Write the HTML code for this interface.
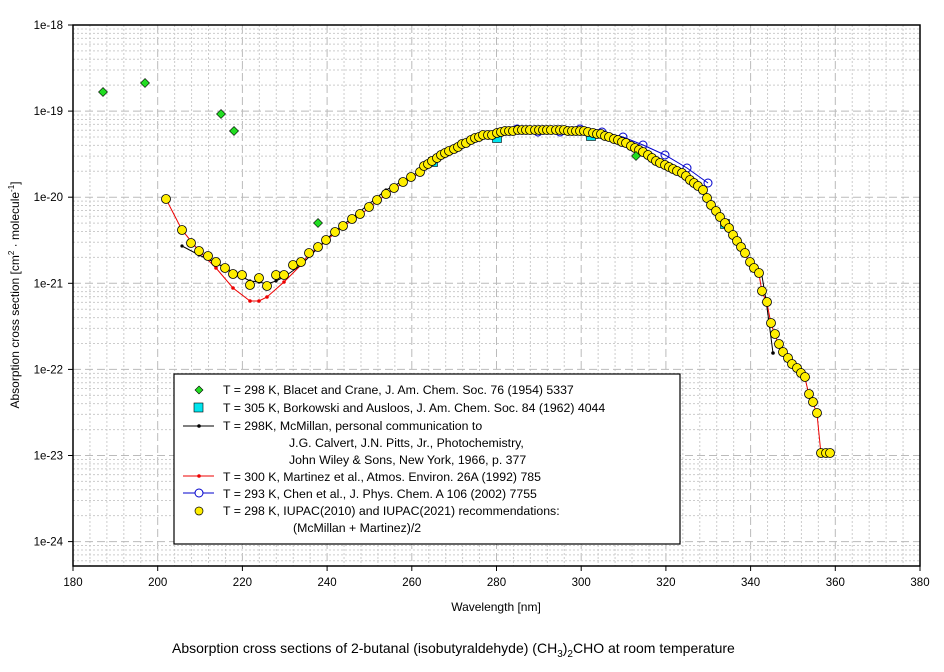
<!DOCTYPE html>
<html><head><meta charset="utf-8"><style>
body{margin:0;background:#fff;width:944px;height:667px;overflow:hidden;font-family:"Liberation Sans",Arial,sans-serif}
svg text{font-family:"Liberation Sans",Arial,sans-serif}
</style></head><body>
<svg id="s" width="944" height="667" xmlns="http://www.w3.org/2000/svg">
<g id="grid"></g>
<g id="data"></g>
<rect x="73" y="25" width="847" height="541" fill="none" stroke="#000" stroke-width="1.5"/>
<g id="ticks" font-size="11.5"></g>
<text x="496" y="611" font-size="12" text-anchor="middle">Wavelength [nm]</text>
<text transform="translate(19,295) rotate(-90)" font-size="12" text-anchor="middle">Absorption cross section [cm<tspan dy="-5" font-size="8">2</tspan><tspan dy="5"> · molecule</tspan><tspan dy="-5" font-size="8">-1</tspan><tspan dy="5">]</tspan></text>
<text x="172" y="653" font-size="14">Absorption cross sections of 2-butanal (isobutyraldehyde) (CH<tspan dy="4" font-size="10">3</tspan><tspan dy="-4">)</tspan><tspan dy="4" font-size="10">2</tspan><tspan dy="-4">CHO  at room temperature</tspan></text>
<g id="legend" font-size="12.3">
<rect x="174" y="374" width="506" height="170" fill="#fff" stroke="#000" stroke-width="1.2"/>
<polygon points="199,386 203,390 199,394 195,390" fill="#22dd22" stroke="#000" stroke-width="0.6"/>
<rect x="194" y="403" width="9" height="9" fill="#00e5ee" stroke="#000" stroke-width="0.6"/>
<line x1="183" y1="426" x2="214" y2="426" stroke="#000"/><circle cx="199" cy="426" r="1.8" fill="#000"/>
<line x1="183" y1="476" x2="214" y2="476" stroke="#e00"/><circle cx="199" cy="476" r="1.8" fill="#e00"/>
<line x1="183" y1="493" x2="214" y2="493" stroke="#00c"/><circle cx="199" cy="493" r="4" fill="#fff" stroke="#00c"/>
<circle cx="199" cy="511" r="4" fill="#ffee00" stroke="#000" stroke-width="0.7"/>
<text x="223" y="394">T = 298 K, Blacet and Crane, J. Am. Chem. Soc. 76 (1954) 5337</text>
<text x="223" y="412">T = 305 K, Borkowski and Ausloos, J. Am. Chem. Soc. 84 (1962) 4044</text>
<text x="223" y="430">T = 298K, McMillan, personal communication to</text>
<text x="289" y="447">J.G. Calvert, J.N. Pitts, Jr., Photochemistry,</text>
<text x="289" y="464">John Wiley &amp; Sons, New York, 1966, p. 377</text>
<text x="223" y="481">T = 300 K, Martinez et al., Atmos. Environ. 26A (1992) 785</text>
<text x="223" y="498">T = 293 K, Chen et al., J. Phys. Chem. A 106 (2002) 7755</text>
<text x="223" y="515">T = 298 K, IUPAC(2010) and IUPAC(2021) recommendations:</text>
<text x="293" y="532">(McMillan + Martinez)/2</text>
</g>
</svg>
<script>
var NS="http://www.w3.org/2000/svg";
function el(p,t,a){var e=document.createElementNS(NS,t);for(var k in a)e.setAttribute(k,a[k]);p.appendChild(e);return e;}
var g=document.getElementById('grid'),tk=document.getElementById('ticks'),d=document.getElementById('data');
var X=function(nm){return 73+(nm-180)*847/200;};
var Y=function(lv){return 25+(-18-lv)*86.1;};
for(var nm=180;nm<=380;nm+=4){var x=X(nm);
 if(nm%20==0){if(nm>180&&nm<380)el(g,'line',{x1:x,y1:25,x2:x,y2:566,stroke:'#bbb','stroke-dasharray':'8,4'});
  el(tk,'line',{x1:x,y1:566,x2:x,y2:571,stroke:'#000'});
  var t=el(tk,'text',{x:x,y:586,'text-anchor':'middle'});t.textContent=nm;}
 else el(g,'line',{x1:x,y1:25,x2:x,y2:566,stroke:'#ccc','stroke-dasharray':'2,2'});}
for(var k=18;k<=25;k++){
 var y=Y(-k);
 if(y>=25&&y<=566){ if(k>18)el(g,'line',{x1:73,y1:y,x2:920,y2:y,stroke:'#bbb','stroke-dasharray':'8,4'});
  el(tk,'line',{x1:68,y1:y,x2:73,y2:y,stroke:'#000'});
  var t=el(tk,'text',{x:63,y:y+4,'text-anchor':'end'});t.textContent='1e-'+k;}
 for(var m=2;m<=9;m++){var yy=Y(-k-1+Math.log10(m));if(yy>25&&yy<566)el(g,'line',{x1:73,y1:yy,x2:920,y2:yy,stroke:'#ccc','stroke-dasharray':'2,2'});}
}
var yel=[[166,199],[182,230],[191,243],[199,251],[208,256],[216,262],[225,268],[233,274],[242,275],[250,285],[259,278],[267,286],[276,275],[284,275],[293,265],[301,262],[309,253],[318,247],[326,240],[335,232],[343,226],[352,219],[360,214],[369,207],[377,200],[386,194],[394,188],[403,182],[411,177],[420,172],[424,166],[428,164],[432,161],[437,158],[441,155],[445,153],[449,151],[454,149],[458,147],[462,144],[466,143],[471,140],[475,138],[479,137],[483,135],[488,135],[492,135],[497,133],[501,132],[505,131],[509,131],[513,131],[518,130],[522,130],[526,130],[530,130],[535,130],[539,130],[543,130],[547,130],[551,130],[556,130],[560,130],[564,130],[568,131],[572,131],[576,131],[580,131],[584,131],[588,132],[593,133],[597,134],[601,134],[605,136],[609,137],[614,139],[618,140],[622,142],[626,143],[631,146],[635,148],[639,150],[643,152],[648,155],[652,158],[656,161],[660,163],[665,165],[669,167],[673,169],[677,171],[682,173],[686,176],[690,180],[694,183],[698,186],[703,190],[707,198],[711,205],[716,211],[720,217],[725,223],[729,228],[733,235],[737,241],[741,247],[745,253],[750,262],[754,268],[759,273],[762,291],[767,302],[771,323],[775,334],[779,344],[783,352],[788,358],[792,364],[797,368],[801,373],[805,377],[809,394],[813,402],[817,413],[821,453],[826,453],[830,453]];
function pl(pts,c,w){el(d,'polyline',{points:pts.map(function(p){return p.join(',')}).join(' '),fill:'none',stroke:c,'stroke-width':w||1});}
var red=[[166,199],[182,230],[199,251],[216,268],[233,288],[250,301],[259,301],[267,297],[284,282],[301,265]];
yel.forEach(function(p){if(p[0]>301&&p[0]<=821)red.push([p[0],p[1]+1]);});
pl(red,'#e00');
red.forEach(function(p){if(p[0]<310)el(d,'circle',{cx:p[0],cy:p[1],r:1.8,fill:'#e00'});});
var blk=[[182,246],[199,255],[216,263],[233,272],[250,281],[259,282],[267,284],[276,281],[284,277],[301,265],[318,248],[335,231],[352,218],[369,204],[386,190],[403,181],[420,171],[445,152],[471,139],[497,133]];
pl(blk,'#000');blk.forEach(function(p){el(d,'circle',{cx:p[0],cy:p[1],r:1.6,fill:'#000'});});
pl([[757,268],[762,276],[766,300],[770,330],[773,353]],'#000');el(d,'circle',{cx:773,cy:353,r:1.8,fill:'#000'});
var blue=[[497,134],[517,129],[538,132],[560,132],[580,129],[602,132],[623,137],[643,145],[665,155],[687,168],[708,183]];
pl(blue,'#00c');blue.forEach(function(p){el(d,'circle',{cx:p[0],cy:p[1],r:4,fill:'none',stroke:'#00c'});});
[[433,162],[497,138],[591,136],[725,224]].forEach(function(p){el(d,'rect',{x:p[0]-4.5,y:p[1]-4.5,width:9,height:9,fill:'#00e5ee',stroke:'#000','stroke-width':0.6});});
yel.forEach(function(p){el(d,'circle',{cx:p[0],cy:p[1],r:4.5,fill:'#ffee00',stroke:'#000','stroke-width':0.8});});
[[103,92],[145,83],[221,114],[234,131],[318,223],[636,156]].forEach(function(p){el(d,'polygon',{points:(p[0])+','+(p[1]-4.5)+' '+(p[0]+4.5)+','+p[1]+' '+p[0]+','+(p[1]+4.5)+' '+(p[0]-4.5)+','+p[1],fill:'#22dd22',stroke:'#000','stroke-width':0.6});});
</script>
</body></html>
